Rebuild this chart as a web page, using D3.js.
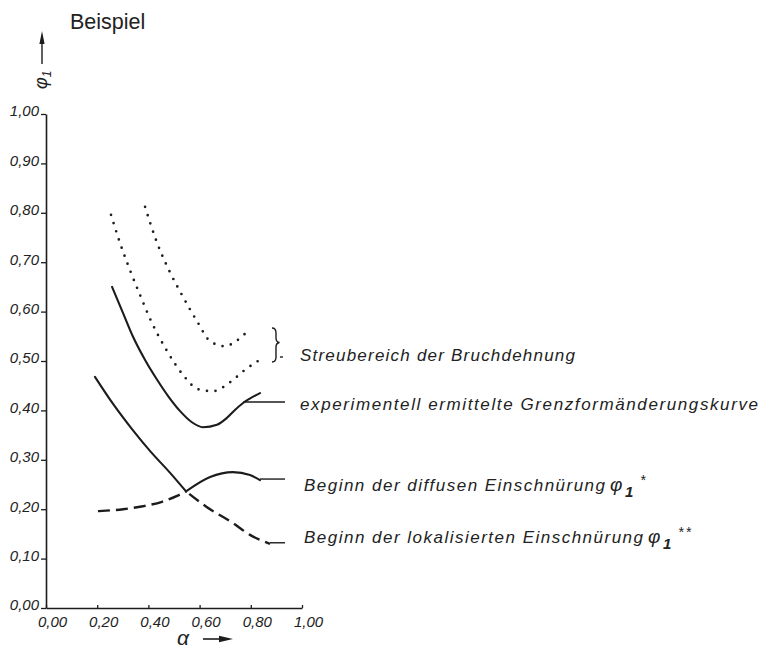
<!DOCTYPE html>
<html>
<head>
<meta charset="utf-8">
<script src="https://cdn.jsdelivr.net/npm/d3@7"></script>
<style>
  html, body { margin: 0; padding: 0; background: #fff; }
  svg { display: block; }
</style>
</head>
<body>
<svg id="chart" width="770" height="650"></svg>
<script>
// Forming limit diagram: principal strain phi1 over strain ratio alpha

const xTicks = [0, 0.2, 0.4, 0.6, 0.8, 1.0];
const xTickLabels = ["0,00", "0,20", "0,40", "0,60", "0,80", "1,00"];
const yTicks = [0, 0.1, 0.2, 0.3, 0.4, 0.5, 0.6, 0.7, 0.8, 0.9, 1.0];
const yTickLabels = ["0,00", "0,10", "0,20", "0,30", "0,40", "0,50", "0,60", "0,70", "0,80", "0,90", "1,00"];

// scatter band of fracture strain, upper and lower bound  [alpha, phi1]
const fractureUpper = [
  [0.387, 0.812], [0.434, 0.739], [0.484, 0.680], [0.535, 0.630], [0.594, 0.577],
  [0.641, 0.540], [0.699, 0.530], [0.742, 0.540], [0.789, 0.561]
];
const fractureLower = [
  [0.254, 0.796], [0.289, 0.739], [0.328, 0.684], [0.367, 0.634], [0.414, 0.577],
  [0.473, 0.520], [0.535, 0.472], [0.594, 0.443], [0.652, 0.439], [0.719, 0.457],
  [0.777, 0.482], [0.828, 0.500]
];
// experimentally determined forming limit curve
const formingLimit = [
  [0.258, 0.650], [0.301, 0.597], [0.340, 0.549], [0.387, 0.502], [0.434, 0.462],
  [0.477, 0.429], [0.523, 0.399], [0.570, 0.376], [0.613, 0.366], [0.668, 0.371],
  [0.707, 0.385], [0.738, 0.401], [0.770, 0.415], [0.836, 0.435]
];
// onset of diffuse necking phi1*
const diffuseNecking = [
  [0.203, 0.196], [0.301, 0.200], [0.379, 0.206], [0.453, 0.215], [0.512, 0.227],
  [0.547, 0.236], [0.641, 0.265], [0.730, 0.275], [0.797, 0.269], [0.836, 0.259]
];
// onset of localized necking phi1**
const localizedNecking = [
  [0.191, 0.468], [0.262, 0.413], [0.336, 0.362], [0.406, 0.318], [0.484, 0.274],
  [0.547, 0.236], [0.629, 0.204], [0.730, 0.172], [0.797, 0.148], [0.875, 0.130]
];
// both necking curves change line style where they cross
const crossingAlpha = 0.547;

const svg = d3.select("#chart");
svg.append("rect").attr("width", 770).attr("height", 650).attr("fill", "#fff");

const x = d3.scaleLinear().domain([0, 1]).range([46, 302]);
const y = d3.scaleLinear().domain([0, 1]).range([608, 114]);
const ink = "#1c1c1c";
const sans = "Liberation Sans, Arial, sans-serif";

function label(xp, yp, str, size) {
  return svg.append("text").attr("x", xp).attr("y", yp)
    .style("font-family", sans).style("font-style", "italic")
    .style("font-size", size + "px").style("fill", "#222").text(str);
}

// axes
const yAxis = svg.append("g").attr("transform", `translate(${x(0)},0)`)
  .call(d3.axisLeft(y).tickValues(yTicks).tickSizeInner(5).tickSizeOuter(0).tickPadding(2)
    .tickFormat((d, i) => yTickLabels[i]));
const xAxis = svg.append("g").attr("transform", `translate(0,${y(0)})`)
  .call(d3.axisBottom(x).tickValues(xTicks).tickSizeInner(-3).tickSizeOuter(0).tickPadding(8)
    .tickFormat((d, i) => xTickLabels[i]));
[xAxis, yAxis].forEach(g => {
  g.select(".domain").attr("stroke", ink).attr("stroke-width", 1.6);
  g.selectAll(".tick line").attr("stroke", ink).attr("stroke-width", 1.3);
  g.selectAll(".tick text").style("font-family", sans).style("font-style", "italic")
    .style("font-size", "15px").style("fill", "#222");
});
yAxis.selectAll(".tick text").attr("dy", "0.12em");
xAxis.selectAll(".tick text").attr("dx", "0.4em");

// titles
svg.append("text").attr("x", 70).attr("y", 29)
  .style("font-family", sans).style("font-size", "21.5px").style("fill", "#222").text("Beispiel");

svg.append("line").attr("x1", 42).attr("y1", 64).attr("x2", 42).attr("y2", 40)
  .attr("stroke", ink).attr("stroke-width", 1.4);
svg.append("path").attr("d", "M42,31 L44.6,44 L39.4,44 Z").attr("fill", ink);
const yTitle = label(0, 0, null, 18).attr("transform", "translate(47,89) rotate(-90)");
yTitle.append("tspan").text("φ");
yTitle.append("tspan").style("font-size", "12px").attr("dy", 4).text("1");

label(177, 645, "α", 21);
svg.append("line").attr("x1", 203).attr("y1", 639).attr("x2", 222).attr("y2", 639)
  .attr("stroke", ink).attr("stroke-width", 1.6);
svg.append("path").attr("d", "M233,639 L219,635.8 L219,642.2 Z").attr("fill", ink);

// curves
const line = d3.line().x(d => x(d[0])).y(d => y(d[1])).curve(d3.curveMonotoneX);
function draw(points, dash, width) {
  return svg.append("path").attr("d", line(points)).attr("fill", "none")
    .attr("stroke", ink).attr("stroke-width", width)
    .attr("stroke-linecap", "round").attr("stroke-dasharray", dash);
}
draw(fractureUpper, "0,8.6", 2.7);
draw(fractureLower, "0,8.6", 2.7);
draw(formingLimit, null, 2.1);
draw(diffuseNecking.filter(d => d[0] <= crossingAlpha), "12,6", 2.4).attr("stroke-linecap", "butt");
draw(diffuseNecking.filter(d => d[0] >= crossingAlpha), null, 2.1);
draw(localizedNecking.filter(d => d[0] <= crossingAlpha), null, 2.1);
draw(localizedNecking.filter(d => d[0] >= crossingAlpha), "12,6", 2.4)
  .attr("stroke-linecap", "butt").attr("stroke-dashoffset", -4);

// leaders from curves to their descriptions
const leaderEnd = 285;
const leaders = [formingLimit[12], diffuseNecking[diffuseNecking.length - 1], localizedNecking[localizedNecking.length - 1]];
leaders.forEach(p => {
  svg.append("line").attr("x1", x(p[0])).attr("y1", y(p[1]) - 1).attr("x2", leaderEnd).attr("y2", y(p[1]) - 1)
    .attr("stroke", ink).attr("stroke-width", 1.4);
});

// brace around the fracture scatter band
svg.append("path")
  .attr("d", "M272,328 Q276,328 276,333 L276,338 Q276,342 279.5,342.5 Q276,343 276,347 L276,357 Q276,362 272,362")
  .attr("fill", "none").attr("stroke", ink).attr("stroke-width", 1.4);
svg.append("line").attr("x1", 280).attr("y1", 357).attr("x2", 283).attr("y2", 357)
  .attr("stroke", ink).attr("stroke-width", 1.4);

// descriptions
const labels = [
  { text: "Streubereich der Bruchdehnung", x: 300, y: 361, w: 275 },
  { text: "experimentell ermittelte Grenzformänderungskurve", x: 300, y: 410, w: 458 },
  { text: "Beginn der diffusen Einschnürung", x: 304, y: 491, w: 301, sup: "*" },
  { text: "Beginn der lokalisierten Einschnürung", x: 304, y: 543, w: 339, sup: "**" }
];
labels.forEach(l => {
  label(l.x, l.y, l.text, 17).attr("textLength", l.w).attr("lengthAdjust", "spacing");
  if (l.sup) {
    const sx = l.x + l.w + 5;
    label(sx, l.y, "φ", 19);
    label(sx + 15, l.y + 6, "1", 15).style("font-weight", "bold");
    label(sx + 30, l.y - 6, l.sup, 14).style("letter-spacing", "2px");
  }
});
</script>
</body>
</html>
